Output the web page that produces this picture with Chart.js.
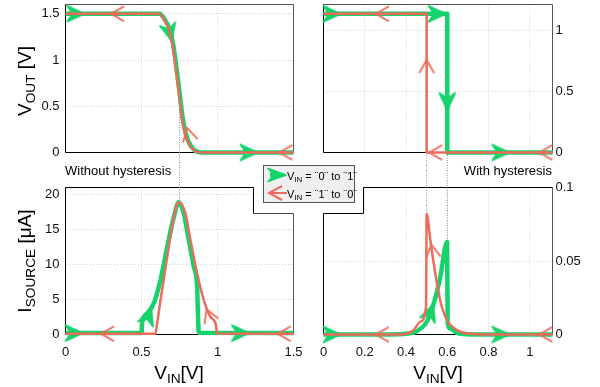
<!DOCTYPE html>
<html><head><meta charset="utf-8">
<script src="https://cdn.jsdelivr.net/npm/chart.js@4.4.1/dist/chart.umd.min.js"></script>
<style>
body{margin:0;background:#fff;}
#wrap{position:relative;width:600px;height:387px;overflow:hidden;font-family:"Liberation Sans",Arial,sans-serif;color:#000;background:#fff;}
#wrap canvas.c{position:absolute;left:0;top:0;}
.t{position:absolute;white-space:nowrap;line-height:1;}
.sub{font-size:0.72em;position:relative;top:0.28em;}
.yt{font-size:19px;transform:translate(-50%,-50%) rotate(-90deg);}
.xt{font-size:19px;transform:translate(-50%,-50%);}
.note{font-size:13px;}
#legend{position:absolute;left:263px;top:165px;width:90px;height:36px;border:1px solid #555;background:#efefef;}
#legend .t{font-size:11px;}
#legend canvas{position:absolute;}
</style></head>
<body>
<div id="wrap">
  <canvas class="c" id="tl" width="600" height="387"></canvas>
  <canvas class="c" id="tr" width="600" height="387"></canvas>
  <canvas class="c" id="bl" width="600" height="387"></canvas>
  <canvas class="c" id="br" width="600" height="387"></canvas>
  <div class="t yt" style="left:24px;top:81px;">V<span class="sub">OUT</span> [V]</div>
  <div class="t yt" style="left:24px;top:261px;">I<span class="sub">SOURCE</span> [μA]</div>
  <div class="t xt" style="left:179px;top:372px;">V<span class="sub">IN</span>[V]</div>
  <div class="t xt" style="left:438px;top:372px;">V<span class="sub">IN</span>[V]</div>
  <div class="t note" style="left:65px;top:164px;">Without hysteresis</div>
  <div class="t note" style="right:48px;top:164px;">With hysteresis</div>
  <div id="legend">
    <canvas id="lg1" width="22" height="16" style="left:2px;top:1px;"></canvas>
    <div class="t" style="left:23px;top:5px;">V<span class="sub">IN</span> = ¨0¨ to ¨1¨</div>
    <canvas id="lg2" width="22" height="16" style="left:2px;top:19px;"></canvas>
    <div class="t" style="left:23px;top:23px;">V<span class="sub">IN</span> = ¨1¨ to ¨0¨</div>
  </div>
</div>
<script>
// ---------------- DATA ----------------
// Top-left: V_OUT without hysteresis
const tlVinUp    = [0, 0.60, 0.619, 0.652, 0.685, 0.707, 0.729, 0.751, 0.773, 0.805, 0.849, 0.893, 1.5];
const tlVoutUp   = [1.5, 1.5, 1.5, 1.44, 1.33, 1.18, 0.93, 0.64, 0.35, 0.134, 0.025, 0, 0];
const tlVinDown  = [0, 0.60, 0.614, 0.647, 0.680, 0.702, 0.724, 0.746, 0.768, 0.800, 0.844, 0.888, 1.5];
const tlVoutDown = [1.5, 1.5, 1.5, 1.44, 1.33, 1.18, 0.93, 0.64, 0.35, 0.134, 0.025, 0, 0];
// Top-right: V_OUT with hysteresis
const trVinUp    = [0, 0.6, 0.6, 1.11];
const trVoutUp   = [1.14, 1.14, 0, 0];
const trVinDown  = [0, 0.5, 0.5, 1.11];
const trVoutDown = [1.14, 1.14, 0, 0];
// Bottom-left: I_SOURCE [uA] without hysteresis
const blVinUp    = [0, 0.5, 0.504, 0.537, 0.58, 0.625, 0.669, 0.713, 0.745, 0.778, 0.811, 0.844, 0.866, 0.872, 0.877, 1.5];
const blIUp      = [0.2, 0.2, 1.6, 3.0, 4.4, 7.8, 12.5, 16.8, 18.9, 17.3, 13.5, 9.7, 6.8, 2.5, 0.25, 0.2];
const blVinDown  = [0, 0.59, 0.603, 0.625, 0.669, 0.713, 0.745, 0.789, 0.822, 0.866, 0.91, 0.954, 0.987, 0.998, 1.5];
const blIDown    = [0.1, 0.1, 1.6, 4.9, 11.1, 16.8, 18.9, 17.3, 13.5, 8.7, 4.9, 2.5, 1.6, 0.15, 0.1];
// Bottom-right: I_SOURCE [uA] with hysteresis
const brVinUp    = [0, 0.30, 0.36, 0.40, 0.44, 0.47, 0.50, 0.534, 0.566, 0.599, 0.602, 0.615, 0.648, 0.70, 0.80, 1.11];
const brIUp      = [0, 0, 0.0002, 0.0005, 0.0015, 0.004, 0.0085, 0.021, 0.039, 0.063, 0.0075, 0.004, 0.001, 0.0002, 0, 0];
const brVinDown  = [0, 0.30, 0.388, 0.437, 0.469, 0.497, 0.500, 0.518, 0.542, 0.566, 0.599, 0.648, 0.712, 0.80, 1.11];
const brIDown    = [0, 0, 0.0002, 0.003, 0.0086, 0.0188, 0.082, 0.064, 0.0415, 0.023, 0.0097, 0.003, 0.0005, 0, 0];
// Direction arrows: position + travel direction (data units)
const tlArrowsUp   = [{x:0.066,y:1.5,dx:1,dy:0},{x:0.685,y:1.30,dx:0.022,dy:-0.15},{x:1.206,y:0,dx:1,dy:0}];
const tlArrowsDown = [{x:0.34,y:1.5,dx:-1,dy:0},{x:0.81,y:0.20,dx:-0.032,dy:0.216},{x:1.447,y:0,dx:-1,dy:0}];
const trArrowsUp   = [{x:0.04,y:1.14,dx:1,dy:0},{x:0.55,y:1.14,dx:1,dy:0},{x:0.6,y:0.42,dx:0,dy:-1},{x:0.858,y:0,dx:1,dy:0}];
const trArrowsDown = [{x:0.283,y:1.14,dx:-1,dy:0},{x:0.5,y:0.71,dx:0,dy:1},{x:0.542,y:0,dx:-1,dy:0},{x:1.076,y:0,dx:-1,dy:0}];
const blArrowsUp   = [{x:0.055,y:0.2,dx:1,dy:0},{x:0.545,y:2.6,dx:0.04,dy:2.5},{x:1.15,y:0.2,dx:1,dy:0}];
const blArrowsDown = [{x:0.274,y:0.1,dx:-1,dy:0},{x:0.943,y:2.8,dx:-0.044,dy:2.4},{x:1.436,y:0.1,dx:-1,dy:0}];
const brArrowsUp   = [{x:0.04,y:0,dx:1,dy:0},{x:0.518,y:0.015,dx:0.032,dy:0.0125},{x:0.858,y:0,dx:1,dy:0}];
const brArrowsDown = [{x:0.283,y:0,dx:-1,dy:0},{x:0.527,y:0.057,dx:-0.024,dy:0.0225},{x:1.076,y:0,dx:-1,dy:0}];
// Dotted guide lines linking top and bottom panels
const leftGuides  = [{x:0.75, yTop:0.6, yBottom:18.9}];
const rightGuides = [{x:0.5, yTop:0, yBottom:0.082},{x:0.6, yTop:0, yBottom:0.063}];
// Axis ticks
const leftXTicks = [0, 0.5, 1, 1.5];
const rightXTicks = [0, 0.2, 0.4, 0.6, 0.8, 1];

// ---------------- STYLE / LAYOUT ----------------
const GREEN = '#14d36a', RED = '#ec6b5b';
const FONT = '"Liberation Sans", Arial, sans-serif';
const AREA = {
  tl:{l:65.5,t:4.5,r:293.5,b:152.5},
  tr:{l:323.5,t:4.5,r:552.5,b:152.5},
  bl:{l:65.5,t:187.5,r:293.5,b:334.5},
  br:{l:323.5,t:187.5,r:552.5,b:334.5}
};
const NOTCH = {x1:253.5, x2:363.5, y2:213.5};

function arrowImg(kind){
  const c=document.createElement('canvas'); c.width=22; c.height=22;
  const g=c.getContext('2d'); g.translate(11,11);
  if(kind==='up'){
    g.fillStyle=GREEN; g.strokeStyle=GREEN; g.lineWidth=1.5; g.lineJoin='round';
    g.beginPath(); g.moveTo(9,0); g.lineTo(-8.5,-8); g.lineTo(-3,0); g.lineTo(-8.5,8); g.closePath(); g.fill(); g.stroke();
  } else {
    g.strokeStyle=RED; g.lineWidth=2;
    g.beginPath(); g.moveTo(-7,-7.5); g.lineTo(6,0); g.lineTo(-7,7.5); g.stroke();
  }
  return c;
}
const IMG_UP = arrowImg('up'), IMG_DOWN = arrowImg('down');

function rot(ctx){
  const d=ctx.raw; if(!d) return 0;
  const xs=ctx.chart.scales.x, ys=ctx.chart.scales.y;
  const px=xs.getPixelForValue(d.x+d.dx)-xs.getPixelForValue(d.x);
  const py=ys.getPixelForValue(d.y+d.dy)-ys.getPixelForValue(d.y);
  return Math.atan2(py,px)*180/Math.PI;
}
const pts=(xs,ys)=>xs.map((x,i)=>({x:x,y:ys[i]}));
function lineDS(xs,ys,color,w,smooth){
  return {data:pts(xs,ys),showLine:true,borderColor:color,backgroundColor:color,borderWidth:w,
    pointRadius:0,pointHoverRadius:0,fill:false,clip:false,
    cubicInterpolationMode: smooth?'monotone':'default',tension:0,borderJoinStyle:'round',borderCapStyle:'butt'};
}
function arrowDS(arr,img){
  return {data:arr,showLine:false,pointStyle:img,pointRadius:1,pointHoverRadius:1,pointBorderWidth:0,pointRotation:rot,clip:false};
}
const fmt = v => String(+(+v).toFixed(4));

const framePlugin = {
  id:'frame',
  beforeDatasetsDraw(chart, args, o){
    const {left:l,top:t,right:r,bottom:b}=chart.chartArea; const g=chart.ctx;
    g.save(); g.lineWidth=1; g.setLineDash([]);
    const seg=(c,x1,y1,x2,y2)=>{g.strokeStyle=c;g.beginPath();g.moveTo(x1,y1);g.lineTo(x2,y2);g.stroke();};
    if(o.notch==='right'){
      g.fillStyle='#fff'; g.fillRect(NOTCH.x1, t-3, r+3-NOTCH.x1, NOTCH.y2-t+3);
      seg('#000',l,t,NOTCH.x1,t); seg('#000',NOTCH.x1,t,NOTCH.x1,NOTCH.y2); seg('#444',NOTCH.x1,NOTCH.y2,r,NOTCH.y2);
      seg('#555',r,NOTCH.y2,r,b); seg('#000',l,t,l,b);
    } else if(o.notch==='left'){
      g.fillStyle='#fff'; g.fillRect(l-3, t-3, NOTCH.x2-l+3, NOTCH.y2-t+3);
      seg('#000',NOTCH.x2,t,r,t); seg('#000',NOTCH.x2,t,NOTCH.x2,NOTCH.y2); seg('#000',l,NOTCH.y2,NOTCH.x2,NOTCH.y2);
      seg('#555',r,t,r,b); seg('#000',l,NOTCH.y2,l,b);
    } else {
      seg('#555',l,t,r,t); seg('#555',r,t,r,b); seg('#000',l,t,l,b);
    }
    seg('#000',l,b,r,b);
    if(o.guides && o.upper){
      const up=charts[o.upper];
      g.strokeStyle='#8a8a8a'; g.setLineDash([1,1.5]);
      o.guides.forEach(gd=>{
        const x=chart.scales.x.getPixelForValue(gd.x);
        g.beginPath(); g.moveTo(x, up.scales.y.getPixelForValue(gd.yTop)); g.lineTo(x, chart.scales.y.getPixelForValue(gd.yBottom)); g.stroke();
      });
    }
    g.restore();
  }
};

const charts={};
function make(id, cfg){
  const a=AREA[id];
  const yRight = cfg.yPos==='right';
  const yW = yRight?45:60, xH = cfg.showX?30:0;
  const pad = {top:a.t, bottom:387-a.b-xH, left: yRight? a.l : a.l-yW, right: yRight? 600-a.r-yW : 600-a.r};
  const tickFont={family:FONT,size:13};
  charts[id]=new Chart(document.getElementById(id),{
    type:'scatter',
    data:{datasets:[
      arrowDS(cfg.arrowsDown,IMG_DOWN),
      lineDS(cfg.xd,cfg.yd,RED,2.5,cfg.smooth),
      arrowDS(cfg.arrowsUp,IMG_UP),
      lineDS(cfg.xu,cfg.yu,GREEN,4.5,cfg.smooth)
    ]},
    options:{
      responsive:false,animation:false,devicePixelRatio:1,
      layout:{padding:pad},
      plugins:{legend:{display:false},tooltip:{enabled:false},
        frame:{notch:cfg.notch,guides:cfg.guides,upper:cfg.upper}},
      scales:{
        x:{type:'linear',min:cfg.xmin,max:cfg.xmax,
          afterBuildTicks:s=>{s.ticks=cfg.xticks.map(v=>({value:v}));},
          afterFit:s=>{s.height=xH;s.paddingLeft=0;s.paddingRight=0;s.paddingTop=0;s.paddingBottom=0;},
          ticks:{display:!!cfg.showX,padding:10,color:'#111',font:tickFont,callback:fmt,maxRotation:0,autoSkip:false},
          grid:{color:'#cfcfcf',drawTicks:false,lineWidth:1},
          border:{display:false,dash:[1,2]}},
        y:{type:'linear',position:cfg.yPos,min:cfg.ymin,max:cfg.ymax,
          afterBuildTicks:s=>{s.ticks=cfg.yticks.map(v=>({value:v}));},
          afterFit:s=>{s.width=yW;s.paddingTop=0;s.paddingBottom=0;s.paddingLeft=0;s.paddingRight=0;},
          ticks:{padding:yRight?3:6,color:'#111',font:tickFont,callback:fmt,autoSkip:false},
          grid:{color:'#cfcfcf',drawTicks:false,lineWidth:1},
          border:{display:false,dash:[1,2]}}
      }
    },
    plugins:[framePlugin]
  });
}

make('tl',{xu:tlVinUp,yu:tlVoutUp,xd:tlVinDown,yd:tlVoutDown,arrowsUp:tlArrowsUp,arrowsDown:tlArrowsDown,
  xmin:0,xmax:1.5,ymin:0,ymax:1.6,xticks:leftXTicks,yticks:[0,0.5,1,1.5],yPos:'left',showX:false,smooth:true});
make('tr',{xu:trVinUp,yu:trVoutUp,xd:trVinDown,yd:trVoutDown,arrowsUp:trArrowsUp,arrowsDown:trArrowsDown,
  xmin:0,xmax:1.11,ymin:0,ymax:1.217,xticks:rightXTicks,yticks:[0,0.5,1],yPos:'right',showX:false,smooth:false});
make('bl',{xu:blVinUp,yu:blIUp,xd:blVinDown,yd:blIDown,arrowsUp:blArrowsUp,arrowsDown:blArrowsDown,
  xmin:0,xmax:1.5,ymin:0,ymax:21,xticks:leftXTicks,yticks:[0,5,10,15,20],yPos:'left',showX:true,smooth:true,
  notch:'right',guides:leftGuides,upper:'tl'});
make('br',{xu:brVinUp,yu:brIUp,xd:brVinDown,yd:brIDown,arrowsUp:brArrowsUp,arrowsDown:brArrowsDown,
  xmin:0,xmax:1.11,ymin:0,ymax:0.1,xticks:rightXTicks,yticks:[0,0.05,0.1],yPos:'right',showX:true,smooth:true,
  notch:'left',guides:rightGuides,upper:'tr'});

// legend icons
(function(){
  let g=document.getElementById('lg1').getContext('2d');
  g.fillStyle=GREEN; g.strokeStyle=GREEN; g.lineWidth=1.5; g.lineJoin='round';
  g.beginPath(); g.moveTo(20,8); g.lineTo(2,1.5); g.lineTo(8,8); g.lineTo(2,14.5); g.closePath(); g.fill(); g.stroke();
  g.lineWidth=4; g.beginPath(); g.moveTo(4,8); g.lineTo(18,8); g.stroke();
  g=document.getElementById('lg2').getContext('2d');
  g.strokeStyle=RED; g.lineWidth=2;
  g.beginPath(); g.moveTo(16,1); g.lineTo(3,8); g.lineTo(16,15); g.stroke();
  g.beginPath(); g.moveTo(3,8); g.lineTo(21,8); g.stroke();
})();
</script>
</body></html>
